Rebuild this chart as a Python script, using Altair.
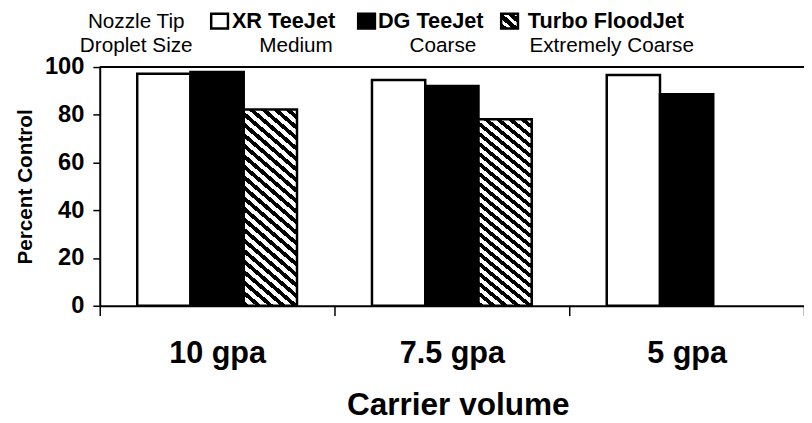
import altair as alt
import pandas as pd

carrier = ["10 gpa", "7.5 gpa", "5 gpa"]
nozzles = ["XR TeeJet", "DG TeeJet", "Turbo FloodJet"]
droplet = ["Medium", "Coarse", "Extremely Coarse"]
legend_title = ["Nozzle Tip", "Droplet Size"]
xr_values = [97.2, 94.6, 96.7]
dg_values = [97.9, 92.1, 88.6]
turbo_values = [82.2, 78.1, None]

rows = []
for i, c in enumerate(carrier):
    for n, vals in zip(nozzles, [xr_values, dg_values, turbo_values]):
        if vals[i] is not None:
            rows.append({"carrier": c, "nozzle": n, "value": vals[i]})
df = pd.DataFrame(rows)

FONT = "Liberation Sans"


def hatch_stops(n, frac):
    stops = []
    for k in range(n):
        a = k / n
        b = (k + frac) / n
        c = (k + 1) / n
        stops += [
            {"offset": a, "color": "black"},
            {"offset": b, "color": "black"},
            {"offset": b, "color": "white"},
            {"offset": c, "color": "white"},
        ]
    return stops


bar_hatch = {
    "gradient": "linear",
    "x1": 0, "y1": 1, "x2": 0.273, "y2": -0.170,
    "stops": hatch_stops(23, 0.48),
}
key_hatch = {
    "gradient": "linear",
    "x1": 0, "y1": 1, "x2": 1, "y2": 0,
    "stops": hatch_stops(3, 0.6),
}

x_enc = alt.X(
    "carrier:N", sort=carrier, title="Carrier volume",
    scale=alt.Scale(domain=carrier, paddingInner=0, paddingOuter=0),
    axis=alt.Axis(
        tickBand="extent", tickSize=10, tickColor="black", tickWidth=1.5,
        domainColor="black", domainWidth=2, labelAngle=0,
        labelFont=FONT, labelFontSize=31, labelFontWeight="bold", labelColor="black",
        labelBaseline="alphabetic", labelPadding=48,
        titleFont=FONT, titleFontSize=32, titleFontWeight="bold", titleColor="black",
        titleBaseline="alphabetic", titleY=110, titleX=363,
    ),
)
xo_enc = alt.XOffset(
    "nozzle:N", sort=nozzles,
    scale=alt.Scale(domain=nozzles, paddingInner=0, paddingOuter=0.704),
)
y_enc = alt.Y(
    "value:Q", title="Percent Control",
    scale=alt.Scale(domain=[0, 100], nice=False, zero=True),
    axis=alt.Axis(
        values=[0, 20, 40, 60, 80, 100], tickSize=7, tickColor="black", tickWidth=1.5,
        domainColor="black", domainWidth=2, grid=False,
        labelFont=FONT, labelFontSize=24, labelFontWeight="bold", labelColor="black",
        labelPadding=9,
        titleFont=FONT, titleFontSize=21, titleFontWeight="bold", titleColor="black",
        titleBaseline="alphabetic", titleX=-69, titleY=121,
    ),
)

base = alt.Chart(df).encode(x=x_enc, xOffset=xo_enc, y=y_enc)

bars_plain = base.transform_filter(
    alt.datum.nozzle != "Turbo FloodJet"
).mark_bar(stroke="black", strokeWidth=2.5).encode(
    fill=alt.Fill("nozzle:N", scale=alt.Scale(domain=["XR TeeJet", "DG TeeJet"], range=["white", "black"]), legend=None)
)
bars_hatch = base.transform_filter(
    alt.datum.nozzle == "Turbo FloodJet"
).mark_bar(stroke="black", strokeWidth=2.5, fill=bar_hatch)

one = pd.DataFrame({"k": [0]})
top_rule = alt.Chart(one).mark_rule(color="black", strokeWidth=2).encode(
    y=alt.datum(100), x=alt.value(0), x2=alt.value(714)
)


def txt(t, x, y, bold=False, align="center", size=21):
    return alt.Chart(one).mark_text(
        text=t, font=FONT, fontSize=size, fontWeight="bold" if bold else "normal",
        align=align, baseline="alphabetic", color="black",
    ).encode(x=alt.value(x), y=alt.value(y))


def key(x, fill):
    return alt.Chart(one).mark_rect(fill=fill, stroke="black", strokeWidth=2.5).encode(
        x=alt.value(x), x2=alt.value(x + 17), y=alt.value(-54), y2=alt.value(-39)
    )


legend_layers = [
    txt(legend_title[0], 37, -40, size=21),
    txt(legend_title[1], 37, -15, size=21),
    key(113, "white"), txt(nozzles[0], 134, -40, bold=True, align="left", size=22),
    key(262, "black"), txt(nozzles[1], 282, -40, bold=True, align="left", size=22),
    key(407, key_hatch), txt(nozzles[2], 434, -40, bold=True, align="left", size=22),
    txt(droplet[0], 199, -15, size=21),
    txt(droplet[1], 348, -15, size=21),
    txt(droplet[2], 519, -15, size=21),
]

chart = alt.layer(bars_plain, bars_hatch, top_rule, *legend_layers).properties(
    width=714, height=242,
    padding={"left": 93, "top": 57, "right": 0, "bottom": 116},
    autosize=alt.AutoSizeParams(type="none"),
    background="white",
).configure_view(stroke=None)

chart.save("out.html", embed_options={"renderer": "svg", "actions": False})
